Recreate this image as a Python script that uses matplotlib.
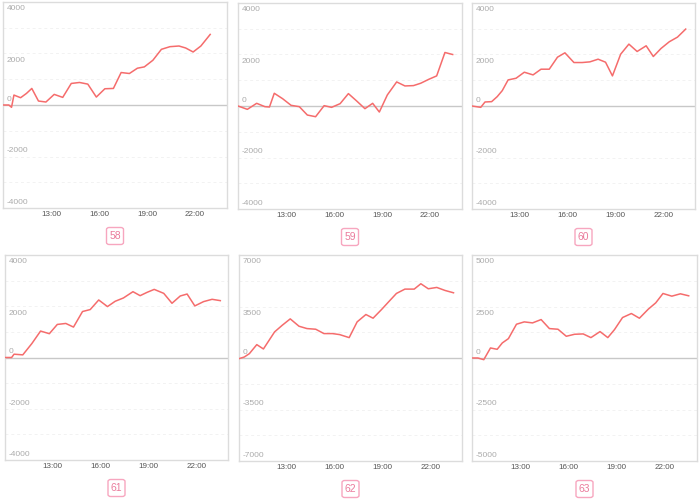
import numpy as np
import matplotlib.pyplot as plt
from matplotlib.patches import FancyBboxPatch

# six small intraday curves, numbered 58..63
names = ['58', '59', '60', '61', '62', '63']

t58 = ['10:00', '10:22', '10:32', '10:41', '11:06', '11:28', '11:48', '12:13', '12:41', '13:12',
       '13:44', '14:16', '14:47', '15:18', '15:50', '16:22', '16:54', '17:23', '17:54', '18:24',
       '18:50', '19:22', '19:54', '20:26', '21:00', '21:25', '21:53', '22:22', '22:57']
v58 = [0, 0, -90, 386, 283, 450, 643, 154, 116, 412,
       296, 837, 875, 811, 309, 631, 643, 1261, 1223, 1429,
       1480, 1737, 2162, 2265, 2291, 2214, 2059, 2291, 2741]

t59 = ['10:00', '10:35', '11:10', '11:41', '11:58', '12:16', '12:47', '13:19', '13:50', '14:20',
       '14:51', '15:23', '15:51', '16:23', '16:54', '17:25', '17:56', '18:25', '18:50', '19:20',
       '19:55', '20:26', '20:58', '21:25', '21:56', '22:25', '22:56', '23:25']
v59 = [0, -130, 104, -26, -39, 494, 286, 26, -26, -351,
       -416, 13, -52, 91, 481, 195, -104, 104, -234, 429,
       935, 779, 792, 883, 1039, 1169, 2078, 2000]

t60 = ['10:00', '10:33', '10:49', '11:14', '11:35', '11:54', '12:16', '12:46', '13:17', '13:50',
       '14:20', '14:51', '15:22', '15:50', '16:24', '16:55', '17:24', '17:55', '18:23', '18:49',
       '19:20', '19:51', '20:22', '20:56', '21:23', '21:52', '22:23', '22:54', '23:25']
v60 = [0, -52, 156, 169, 364, 597, 1013, 1078, 1312, 1208,
       1429, 1429, 1896, 2065, 1688, 1688, 1714, 1818, 1701, 1169,
       2013, 2403, 2117, 2338, 1922, 2234, 2494, 2675, 2987]

t61 = ['10:00', '10:25', '10:34', '11:07', '11:41', '12:14', '12:47', '13:17', '13:49', '14:18',
       '14:52', '15:21', '15:53', '16:26', '16:55', '17:26', '18:02', '18:29', '18:55', '19:22',
       '19:58', '20:29', '21:00', '21:26', '21:55', '22:28', '23:00', '23:31']
v61 = [0, 0, 129, 103, 542, 1032, 929, 1290, 1329, 1187,
       1794, 1871, 2245, 1987, 2194, 2323, 2568, 2413, 2542, 2658,
       2503, 2116, 2400, 2477, 2013, 2181, 2271, 2219]

t62 = ['10:00', '10:20', '10:39', '11:07', '11:32', '12:14', '12:43', '13:13', '13:46', '14:16',
       '14:49', '15:20', '15:52', '16:19', '16:55', '17:25', '17:58', '18:25', '18:57', '19:26',
       '19:53', '20:25', '21:00', '21:25', '21:53', '22:25', '22:56', '23:28']
v62 = [-45, 68, 295, 909, 614, 1773, 2227, 2659, 2159, 2000,
       1955, 1659, 1659, 1591, 1386, 2455, 2955, 2705, 3296, 3864,
       4387, 4682, 4682, 5046, 4705, 4796, 4591, 4432]

t63 = ['10:00', '10:22', '10:44', '11:09', '11:34', '11:53', '12:16', '12:46', '13:15', '13:46',
       '14:18', '14:49', '15:21', '15:52', '16:23', '16:55', '17:24', '17:58', '18:27', '18:52',
       '19:22', '19:55', '20:25', '20:58', '21:26', '21:53', '22:26', '22:58', '23:29']
v63 = [0, 0, -81, 487, 422, 730, 941, 1639, 1753, 1704,
       1866, 1428, 1396, 1055, 1152, 1169, 990, 1282, 990, 1379,
       1964, 2159, 1931, 2369, 2678, 3132, 3002, 3116, 3019]

times = [t58, t59, t60, t61, t62, t63]
values = [v58, v59, v60, v61, v62, v63]
ylims = [4000, 4000, 4000, 4000, 7000, 5000]
xtick_labels = ['13:00', '16:00', '19:00', '22:00']

# panel boxes in pixels (left, top, right, bottom)
boxes = [(3, 2, 227, 208), (238, 3, 462, 209), (472, 3, 695, 209),
         (5, 255, 228, 460), (239, 255, 462, 461), (472, 255, 697, 461)]

W, H = 700, 503
line_col = '#f56c6c'
plt.rcParams['font.family'] = ['Liberation Sans', 'DejaVu Sans']


def to_hours(s):
    h, m = s.split(':')
    return int(h) + int(m) / 60.0


fig = plt.figure(figsize=(W / 100, H / 100), dpi=100)

for name, tt, vv, lim, (l, t, r, b) in zip(names, times, values, ylims, boxes):
    ax = fig.add_axes([l / W, 1 - b / H, (r - l) / W, (b - t) / H])
    x = [to_hours(s) for s in tt]
    ax.plot(x, vv, color=line_col, lw=1.1, zorder=3)
    ax.set_xlim(10, 24)
    ax.set_ylim(-lim, lim)

    # faint dashed grid every eighth of the range, solid zero line
    for g in np.linspace(-lim, lim, 9)[1:-1]:
        if g == 0:
            ax.axhline(0, color='#c8c8c8', lw=1.0, zorder=2)
        else:
            ax.axhline(g, color='#f2f2f2', lw=0.7, ls=(0, (3, 3)), zorder=1)

    # y labels drawn inside the box
    for val in [lim, lim / 2, 0, -lim / 2, -lim]:
        off = -5 if val > 0 else 4
        ax.annotate('%d' % val, xy=(0, val), xycoords=('axes fraction', 'data'),
                    xytext=(2.5, off), textcoords='offset points',
                    ha='left', va='center', fontsize=6, color='#ababab')

    ax.set_yticks([])
    ax.set_xticks([to_hours(s) for s in xtick_labels])
    ax.set_xticklabels(xtick_labels, fontsize=5.8, color='#555555')
    ax.tick_params(axis='x', length=0, pad=2.5)
    for sp in ax.spines.values():
        sp.set_color('#dcdcdc')
        sp.set_linewidth(1.0)

    # numbered square tag under each panel
    cx, cy = (l + r) / 2, b + 28
    fig.patches.append(FancyBboxPatch(((cx - 8.5) / W, 1 - (cy + 8.5) / H), 17 / W, 17 / H,
                                      boxstyle='round,pad=0,rounding_size=0.004',
                                      transform=fig.transFigure, fc='white',
                                      ec='#f7a6bf', lw=1.0))
    fig.text(cx / W, 1 - cy / H, name, ha='center', va='center',
             fontsize=7.5, color='#ea7b9c')

fig.savefig('out.png', dpi=100)
